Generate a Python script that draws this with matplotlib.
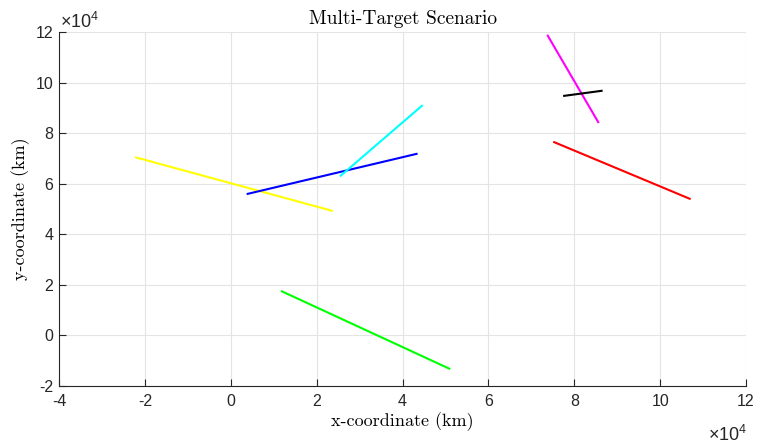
import numpy as np
import matplotlib
matplotlib.use("Agg")
from matplotlib import pyplot as plt
from matplotlib.ticker import FuncFormatter

# target tracks in km (start, end)
track_colors = ["yellow", "blue", "cyan", "magenta", "black", "red", "lime"]
track_x = [
    [-22300, 23800],
    [3700, 43500],
    [25400, 44700],
    [73700, 85700],
    [77400, 86600],
    [75100, 107100],
    [11700, 51100],
]
track_y = [
    [70500, 49200],
    [55900, 71900],
    [62900, 91100],
    [118900, 84000],
    [94700, 96800],
    [76600, 53900],
    [17600, -13300],
]
scale = 1e4

plt.rcParams["mathtext.fontset"] = "custom"
plt.rcParams["mathtext.rm"] = "Liberation Sans"
plt.rcParams["mathtext.it"] = "Liberation Sans"
plt.rcParams["font.family"] = "Liberation Sans"

fig = plt.figure(figsize=(7.57, 4.44), dpi=100)
ax = fig.add_axes([0.078, 0.1306, 0.9075, 0.7973])

for c, xs, ys in zip(track_colors, track_x, track_y):
    ax.plot(xs, ys, color=c, linewidth=1.5, solid_capstyle="butt")

ax.set_xlim(-40000, 120000)
ax.set_ylim(-20000, 120000)
ax.set_xticks(np.arange(-40000, 120001, 20000))
ax.set_yticks(np.arange(-20000, 120001, 20000))

fmt = FuncFormatter(lambda v, pos: f"{v / scale:g}")
ax.xaxis.set_major_formatter(fmt)
ax.yaxis.set_major_formatter(fmt)

ax.grid(True, color="#e4e4e4", linewidth=0.8)
ax.set_axisbelow(True)
for s in ("top", "right"):
    ax.spines[s].set_visible(False)
for s in ("left", "bottom"):
    ax.spines[s].set_color("#262626")
    ax.spines[s].set_linewidth(0.8)
ax.tick_params(direction="in", length=5, width=0.8, colors="#262626",
               labelsize=11.5, labelcolor="#262626")
ax.tick_params(axis="x", pad=6)
ax.tick_params(axis="y", pad=4)

# exponent labels like MATLAB
ax.annotate(r"$\times10^{4}$", xy=(0, 1), xycoords="axes fraction",
            xytext=(0.5, 3), textcoords="offset points",
            ha="left", va="baseline", fontsize=13, color="#262626")
ax.annotate(r"$\times10^{4}$", xy=(1, 0), xycoords="axes fraction",
            xytext=(1, -39.5), textcoords="offset points",
            ha="right", va="baseline", fontsize=13, color="#262626")

serif = "cmr10"
ax.set_title("Multi-Target Scenario", family=serif, fontsize=14, pad=6)
ax.set_xlabel("x-coordinate (km)", family=serif, fontsize=13, labelpad=2)
ax.set_ylabel("y-coordinate (km)", family=serif, fontsize=13, labelpad=4)

fig.savefig("out.png", dpi=100)
